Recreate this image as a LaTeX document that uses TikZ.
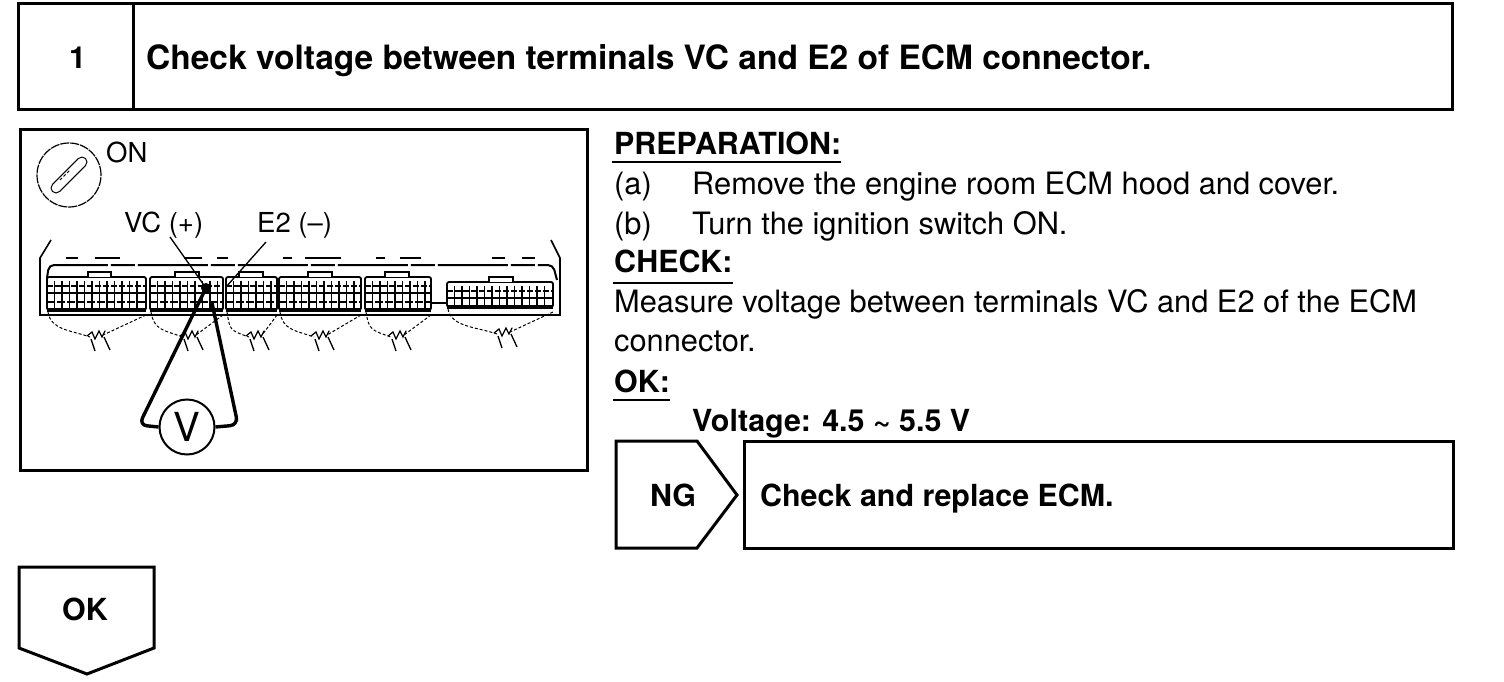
\documentclass[tikz,border=0pt]{standalone}
\usepackage{fontspec}
\setmainfont{TeX Gyre Heros}
\usepackage{tikz}
\usetikzlibrary{positioning,calc}

% one ECM connector with its wire bundle
\newcommand{\ecmblock}[7]{%
    \draw[line width=1.8pt, rounded corners=2pt] (#1,#6) rectangle (#2,#7);
    \draw[line width=3.4pt] (#1,#7) -- (#2,#7);
    \draw[line width=1.8pt, fill=white] (#3,#6) -- (#3,#6-5) -- (#4,#6-5) -- (#4,#6);
    \draw[line width=1.2pt, dash pattern=on 6pt off 2pt] (#1,#6+9) -- (#2,#6+9);
    \draw[line width=2pt] (#1,#6+16) -- (#2,#6+16);
    \draw[line width=1.2pt, dash pattern=on 8pt off 2pt] (#1,#6+25) -- (#2,#6+25);
    \foreach \cx in {1,...,40} {
        \pgfmathsetmacro{\tx}{#1+\cx*7.5}
        \pgfmathparse{\tx<#2-3 ? 1 : 0}
        \ifnum\pgfmathresult=1
            \draw[line width=1.1pt] (\tx,#6+4) -- (\tx,#7-1);
        \fi
    }
    \draw[wirearc] (#1+1,#7+2) .. controls (#1+4,#7+20) and (#5-25,#7+20) .. (#5-5,#7+27);
    \draw[wirearc] (#2,#7+5) -- (#5+8,#7+25);
    \draw[line width=1.2pt, line cap=round] (#5-8,#7+26) -- (#5-3,#7+22) -- (#5,#7+29) -- (#5+4,#7+21) -- (#5+7,#7+27) -- (#5+10,#7+21);
    \draw[line width=1.3pt] (#5-4,#7+29) -- (#5,#7+41);
    \draw[line width=1.3pt] (#5+9,#7+27) -- (#5+15,#7+40);
}

\begin{document}
\begin{tikzpicture}[
            x=1pt, y=-1pt,
            heavy/.style={line width=3pt},
            boldtext/.style={anchor=base west, inner sep=0pt, font=\fontsize{30.4}{32}\selectfont\bfseries},
            bodytext/.style={anchor=base west, inner sep=0pt, font=\fontsize{30.8}{33}\selectfont},
            labeltext/.style={anchor=base west, inner sep=0pt, font=\fontsize{27.5}{30}\selectfont},
            wirearc/.style={line width=1pt, densely dashed},
            probe/.style={line width=3.4pt, rounded corners=8pt}
        ]
            \useasboundingbox (0,0) rectangle (1504,682);

            % Title bar
            \draw[heavy] (18,4) rectangle (1452,110);
            \draw[heavy] (133,4) -- (133,110);
            \node[boldtext] (stepno) at (69,69) {1};
            \node[boldtext, font=\fontsize{33.5}{36}\selectfont\bfseries] (title) at (146,70) {Check voltage between terminals VC and E2 of ECM connector.};

            % Picture panel
            \draw[heavy] (20,130) rectangle (587,470);
            \node[draw, circle, line width=1.2pt, dash pattern=on 9pt off 1pt, minimum size=64pt, inner sep=0pt] (keyring) at (69,175) {};
            \draw[line width=11pt, line cap=round] (56,188) -- (82,162);
            \draw[line width=8.6pt, line cap=round, white] (56,188) -- (82,162);
            \draw[line width=1pt, densely dashed] (60,180) -- (70,170);
            \node[labeltext] (onlabel) at (106,162) {ON};
            \node[labeltext] (vclabel) at (124,232) {VC (+)};
            \node[labeltext] (e2label) at (257,232) {E2 (--)};

            % Connector housing
            \draw[line width=1.6pt] (51,240) -- (40,258) -- (40,315) -- (560,315) -- (560,258) -- (551,240);
            \draw[line width=2pt, rounded corners=5pt, dash pattern=on 70pt off 3pt on 24pt off 3pt] (47,278) -- (49,265) -- (553,265) -- (557,280);
            \foreach \gx/\gw in {66/12,95/25,184/18,217/11,283/9,305/36,376/9,400/21,492/13,522/13} {
                \draw[line width=1.4pt] (\gx,258) -- (\gx+\gw,258);
            }

            % Connectors
            \ecmblock{47}{146}{88}{111}{95}{277}{310}
            \ecmblock{150}{223}{175}{199}{188}{277}{310}
            \ecmblock{226}{277}{239}{263}{254}{277}{310}
            \ecmblock{279}{361}{308}{332}{319}{277}{310}
            \ecmblock{365}{431}{385}{409}{396}{277}{310}
            \ecmblock{447}{553}{489}{513}{502}{282}{307}
            \draw[line width=1.6pt] (431,303) -- (447,303);

            % Meter and probes
            \node[draw, circle, line width=2pt, minimum size=55pt, inner sep=0pt, font=\fontsize{40}{40}\selectfont] (meter) at (187,427) {V};
            \coordinate (vcpin) at (206,288);
            \coordinate (e2pin) at (212,303);
            \draw[line width=1.3pt] (170,237) -- (vcpin);
            \draw[line width=1.3pt] (266,242) -- (226,287);
            \draw[probe] (vcpin) -- (139,425) -- (meter.west);
            \draw[probe] (e2pin) -- (238,425) -- (meter.east);
            \fill (vcpin) circle (5pt);

            % Procedure text
            \node[boldtext] (prep) at (614,154) {PREPARATION:};
            \node[bodytext, below=40pt of prep.base west, anchor=base west] (stepa) {(a)};
            \node[bodytext, right=78pt of stepa.base west, anchor=base west] (stepatext) {Remove the engine room ECM hood and cover.};
            \node[bodytext, below=40pt of stepa.base west, anchor=base west] (stepb) {(b)};
            \node[bodytext, right=78pt of stepb.base west, anchor=base west] (stepbtext) {Turn the ignition switch ON.};
            \node[boldtext, below=38pt of stepb.base west, anchor=base west] (check) {CHECK:};
            \node[bodytext, below=40pt of check.base west, anchor=base west] (measure) {Measure voltage between terminals VC and E2 of the ECM};
            \node[bodytext, below=39pt of measure.base west, anchor=base west] (conn) {connector.};
            \node[boldtext, below=41pt of conn.base west, anchor=base west] (okhead) {OK:};
            \node[boldtext, below=39pt of okhead.base west, anchor=base west, xshift=78pt] (spec) {Voltage: 4.5 \textasciitilde{} 5.5 V};

            % Underlines
            \draw[line width=1.4pt] ($(prep.base west)+(-2,8)$) -- ($(prep.base east)+(0,8)$);
            \draw[line width=1.4pt] ($(check.base west)+(-1,11)$) -- ($(check.base east)+(0,11)$);
            \draw[line width=1.4pt] ($(okhead.base west)+(-1,8)$) -- ($(okhead.base east)+(0,8)$);

            % NG branch
            \draw[heavy] (616,441) -- (697,441) -- (737,495) -- (697,548) -- (616,548) -- cycle;
            \node[boldtext] (nglabel) at (650,506) {NG};
            \draw[heavy] (744,441) rectangle (1453,548);
            \node[boldtext] (ngtext) at (760,506) {Check and replace ECM.};

            % OK branch
            \draw[heavy] (19,567) -- (154,567) -- (154,648) -- (87,674) -- (19,648) -- cycle;
            \node[boldtext] (oklabel) at (62,620) {OK};
        \end{tikzpicture}
\end{document}
